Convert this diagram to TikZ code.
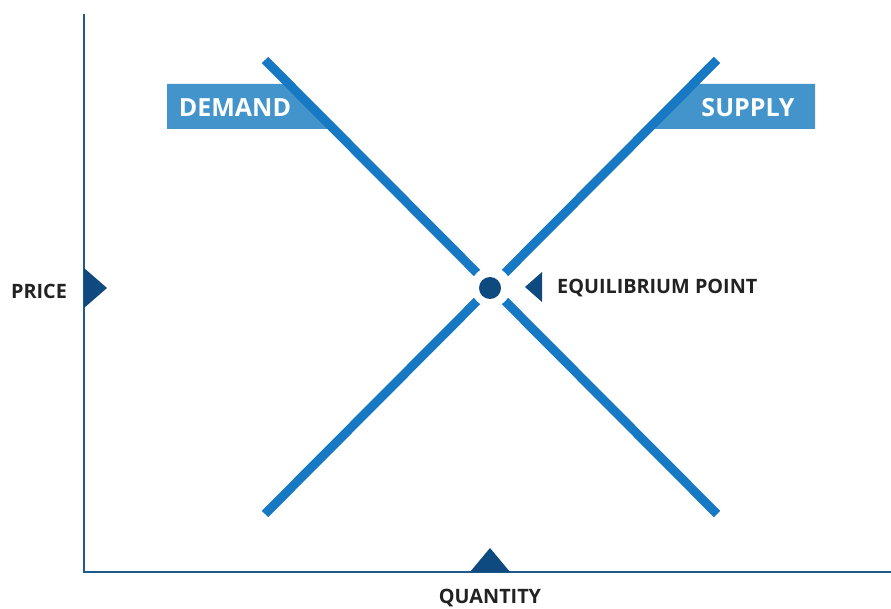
\documentclass[tikz,border=0pt]{standalone}
\usepackage{fontspec}
\setmainfont{Open Sans}
\begin{document}
\begin{tikzpicture}[x=1pt,y=-1pt,
  axis/.style={draw=axisblue,line width=1.5pt},
  curve/.style={draw=lineblue,line width=9pt},
  tag/.style={fill=boxblue},
  marker/.style={fill=darkblue},
  lbl/.style={text=textdark,font=\bfseries\fontsize{19.8}{23}\selectfont,inner sep=0pt},
  boxlbl/.style={text=white,font=\bfseries\fontsize{25}{29}\selectfont,inner sep=0pt}]
\definecolor{axisblue}{HTML}{1F5A8C}
\definecolor{lineblue}{HTML}{1779C3}
\definecolor{boxblue}{HTML}{4294CB}
\definecolor{darkblue}{HTML}{0E4A7F}
\definecolor{textdark}{HTML}{222222}
\useasboundingbox (0,0) rectangle (891,609);
% axes
\coordinate (otop) at (84,14);
\coordinate (origin) at (84,572);
\coordinate (xend) at (891,572);
\draw[axis] (otop) -- (origin) -- (xend);
% label boxes
\fill[tag] (167,84) -- (289,84) -- (334,129) -- (167,129) -- cycle;
\fill[tag] (693,84) -- (815,84) -- (815,129) -- (648,129) -- cycle;
% curves
\coordinate (d1) at (265,60);
\coordinate (d2) at (717,514);
\coordinate (s1) at (265,514);
\coordinate (s2) at (717,60);
\draw[curve] (d1) -- (d2);
\draw[curve] (s1) -- (s2);
% equilibrium
\fill[white] (491,287) circle (20);
\node[circle,fill=darkblue,minimum size=22pt,inner sep=0pt] (eq) at (490,288) {};
% text
\node[boxlbl] (demand) at (235,108) {DEMAND};
\node[boxlbl] (supply) at (748,108) {SUPPLY};
\node[lbl,anchor=west] (eqlbl) at (557,288) {EQUILIBRIUM POINT};
\node[lbl] (price) at (39,291) {PRICE};
\node[lbl] (qty) at (490,598) {QUANTITY};
% markers
\fill[marker] (84,268) -- (107,288) -- (84,308) -- cycle;
\fill[marker] (470,572) -- (490,548) -- (510,572) -- cycle;
\fill[marker] (542,272) -- (525,287) -- (542,302) -- cycle;
\end{tikzpicture}
\end{document}
